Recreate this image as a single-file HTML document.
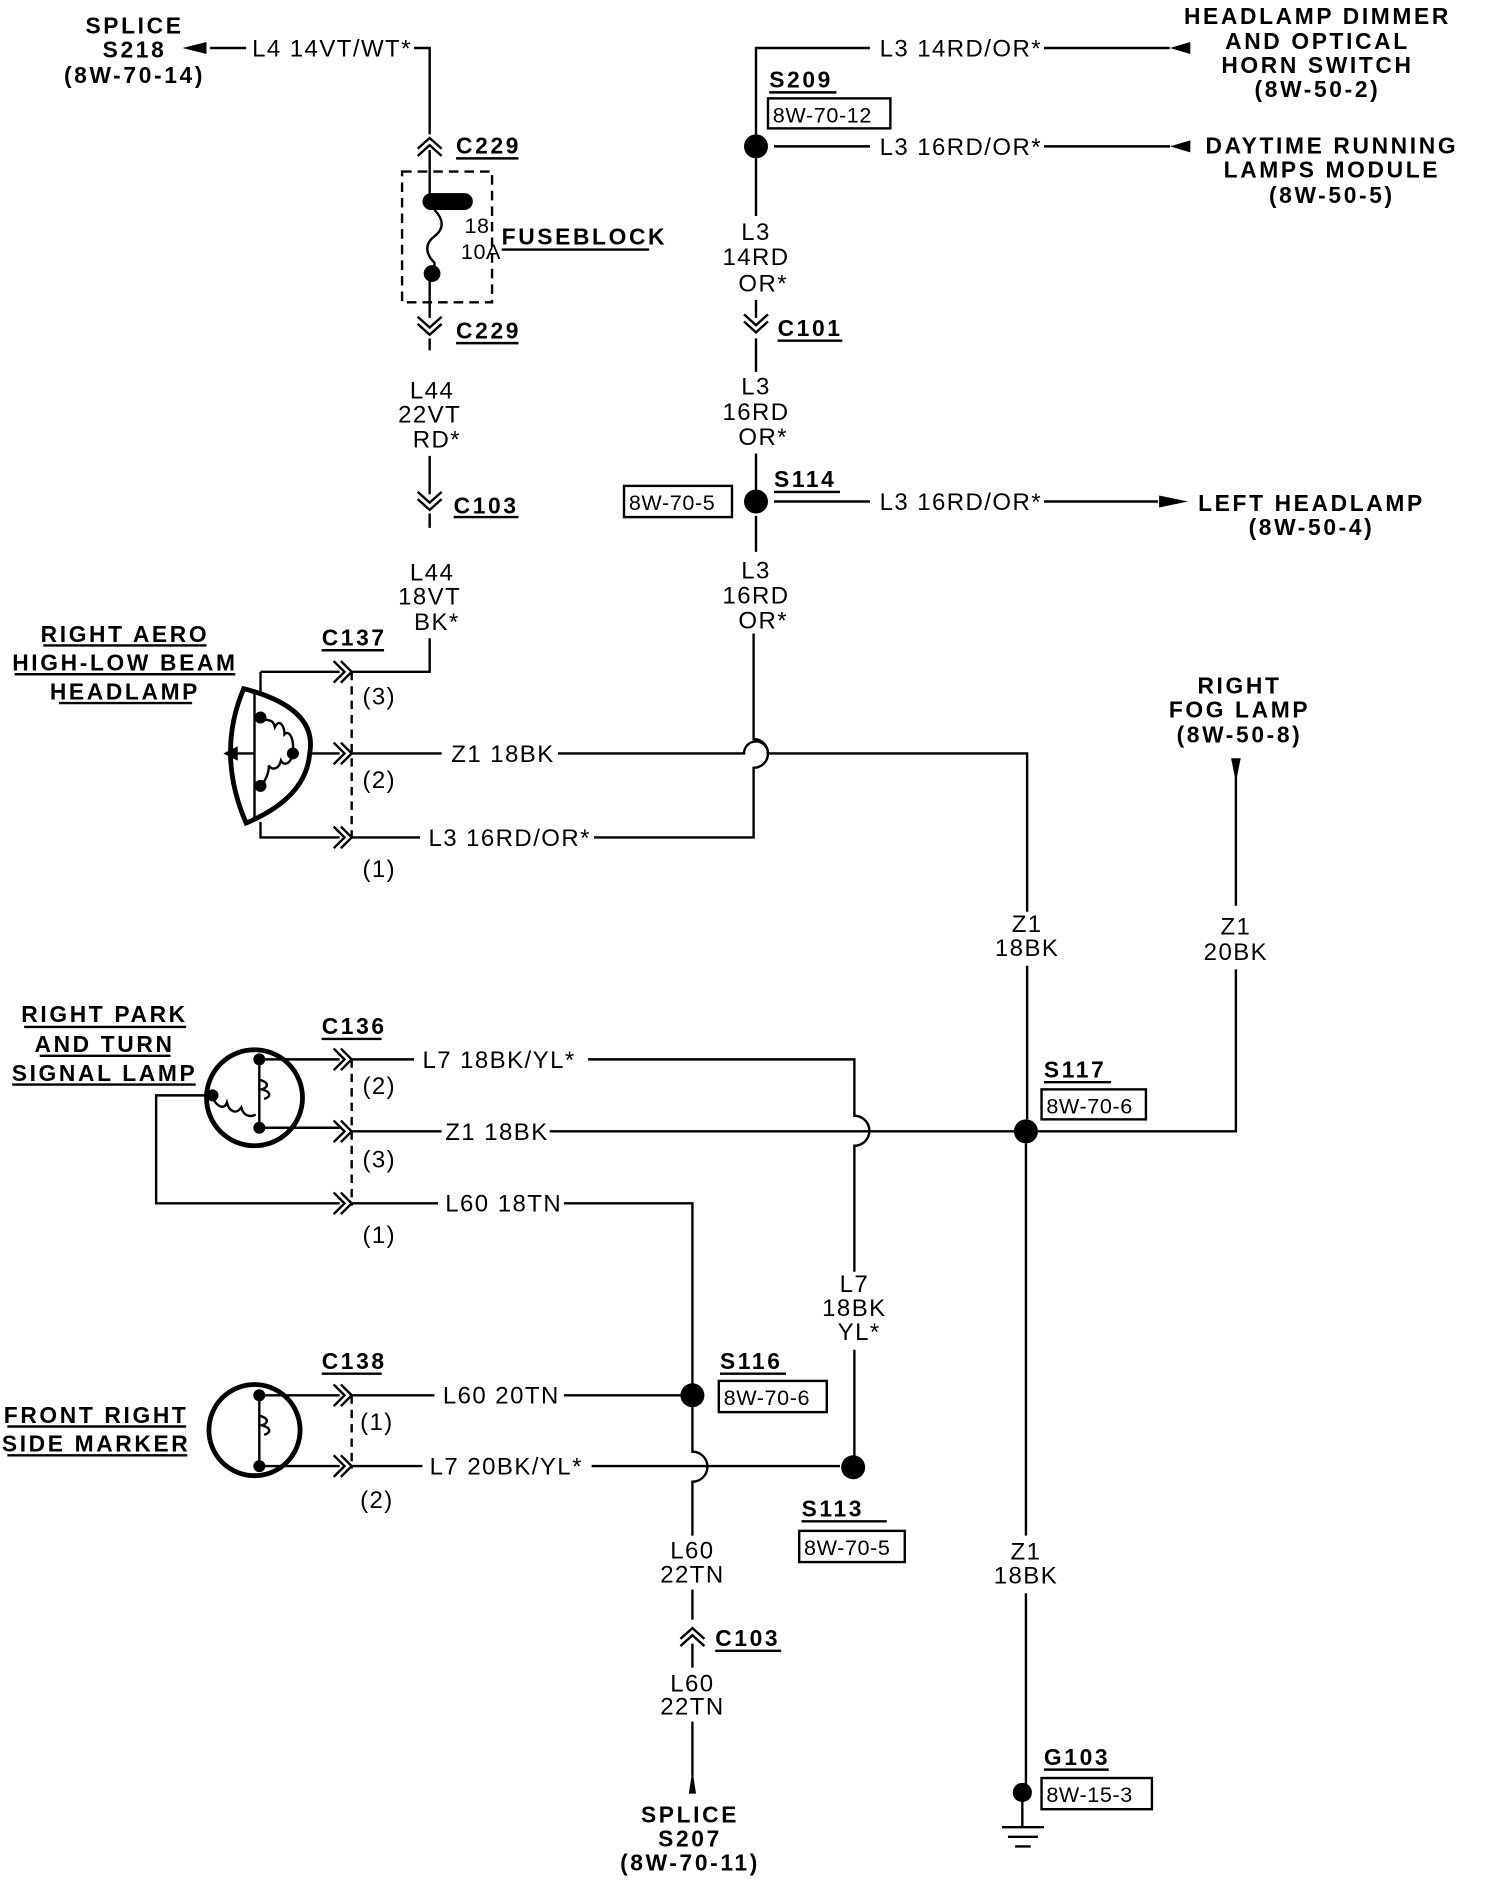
<!DOCTYPE html>
<html><head><meta charset="utf-8"><style>
html,body{margin:0;padding:0;background:#fff;}
svg{display:block;}
text{font-family:"Liberation Sans",sans-serif;font-size:20px;letter-spacing:1.2px;fill:#000;}
.b{font-weight:bold;font-size:19px;letter-spacing:2.2px;}
.s{font-size:18px;letter-spacing:0.5px;}
</style></head><body>
<svg width="1488" height="1880" viewBox="0 0 1240 1567" xmlns="http://www.w3.org/2000/svg">
<defs>
<g id="ch" fill="none" stroke="#000" stroke-width="2"><path d="M-12,-9 L-3,0 L-12,9 M-6,-9 L3,0 L-6,9"/></g>
<g id="cu" fill="none" stroke="#000" stroke-width="2"><path d="M-10,6 L0,-3 L10,6 M-10,12 L0,3 L10,12"/></g>
<g id="cd" fill="none" stroke="#000" stroke-width="2"><path d="M-10,-6 L0,3 L10,-6 M-10,-12 L0,-3 L10,-12"/></g>
</defs>
<g fill="none" stroke="#000" stroke-width="2">
<path d="M175,40 H205 M345,40 H358 V112 M358,125 V168 M358,228 V265 M358,282 V292 M358,380 V412 M358,428 V440 M358,532 V560 H292"/>
<rect x="335" y="143" width="75" height="109" stroke-dasharray="8,5"/>
<path d="M362,175 c8,8 8,16 0,22 c-8,6 -8,14 0,22 l0,9"/>
<path d="M217,560 H283 M217,560 V578 M258,628 H283 M217,685 V698 H283 M292,628 H368 M465,628 H620 A10,10 0 0 1 640,628 H856 V760 M856,805 V933"/>
<path d="M293,560 V700" stroke-dasharray="7,5"/>
<path d="M292,698 H350 M495,698 H628 V640 A12,12 0 0 0 628,616 V528"/>
<path d="M203,574 Q265,590 258,628 Q255,665 205,686 Q180,628 203,574 Z" stroke-width="4"/>
<path d="M212,578 V682"/>
<path d="M217,598 c6,4 10,0 12,8 c4,-8 8,0 8,6 c4,-4 8,4 7,14 M244,628 c-2,10 -8,10 -10,6 c-2,8 -8,8 -10,4 c0,8 -4,14 -7,17"/>
<path d="M190,628 H212"/>
<path d="M630,112 V40 H725 M870,40 H975 M645,122 H725 M870,122 H975 M630,132 V180 M630,250 V265 M630,282 V310 M630,378 V408 M645,418 H725 M870,418 H965 M630,430 V460"/>
<path d="M1030,640 V755 M1030,808 V943 H865"/>
<path d="M855,953 V1280 M855,1328 V1494 M852,1494 V1523 M835,1523 H870 M840,1531 H865 M846,1539 H859"/>
<circle cx="212" cy="915" r="40" stroke-width="4"/>
<path d="M216,883 H283 M216,940 H283 M175,913 H130 V1003 H283 M216,883 V940"/>
<path d="M216,900 c8,2 8,6 2,8 c8,2 8,6 2,8 M177,915 c4,8 10,10 12,4 c2,8 8,10 12,4 c2,8 8,8 12,6"/>
<path d="M293,883 V1005" stroke-dasharray="7,5"/>
<path d="M292,883 H345 M490,883 H712 V930 A12,12 0 0 1 712,955 V1060 M712,1125 V1222"/>
<path d="M292,943 H368 M458,943 H845"/>
<path d="M292,1003 H365 M470,1003 H577 V1163"/>
<circle cx="212" cy="1192" r="38" stroke-width="4"/>
<path d="M216,1163 H283 M216,1222 H283 M216,1163 V1222 M216,1180 c8,2 8,6 2,8 c8,2 8,6 2,8"/>
<path d="M293,1163 V1224" stroke-dasharray="7,5"/>
<path d="M292,1163 H362 M470,1163 H567 M292,1222 H352 M493,1222 H700"/>
<path d="M577,1173 V1210 A12,12 0 0 1 577,1235 V1280 M577,1325 V1350 M577,1370 V1390 M577,1435 V1480"/>
<rect x="640" y="82" width="102" height="25"/>
<rect x="520" y="405" width="90" height="26"/>
<rect x="868" y="908" width="87" height="25"/>
<rect x="599" y="1151" width="90" height="26"/>
<rect x="666" y="1276" width="88" height="26"/>
<rect x="868" y="1482" width="92" height="26"/>
<path d="M380,132 H432 M380,286 H432 M378,431 H432 M418,208 H541 M641,77 H697 M648,284 H702 M645,410 H700 M268,542 H320 M36,538 H172 M12,562 H196 M49,586 H160 M268,866 H318 M20,856 H155 M33,880 H142 M10,904 H163 M268,1145 H318 M6,1189 H155 M6,1213 H156 M870,902 H926 M600,1145 H655 M668,1268 H739 M596,1376 H651 M870,1475 H924"/>
</g>
<use href="#cu" x="358" y="118"/>
<use href="#cd" x="358" y="276"/>
<use href="#cd" x="358" y="422"/>
<use href="#cd" x="630" y="274"/>
<use href="#cu" x="577" y="1360"/>
<use href="#ch" x="290" y="560"/><use href="#ch" x="290" y="628"/><use href="#ch" x="290" y="698"/>
<use href="#ch" x="290" y="883"/><use href="#ch" x="290" y="943"/><use href="#ch" x="290" y="1003"/>
<use href="#ch" x="290" y="1163"/><use href="#ch" x="290" y="1222"/>
<g fill="#000">
<rect x="352" y="161" width="42" height="14" rx="7"/>
<circle cx="360" cy="228" r="7"/>
<circle cx="630" cy="122" r="10"/><circle cx="630" cy="418" r="10"/>
<circle cx="855" cy="943" r="10"/><circle cx="577" cy="1163" r="10"/><circle cx="711" cy="1223" r="10"/>
<circle cx="852" cy="1494" r="8"/>
<circle cx="217" cy="598" r="5"/><circle cx="244" cy="628" r="5"/><circle cx="217" cy="655" r="5"/>
<circle cx="216" cy="883" r="5"/><circle cx="216" cy="940" r="5"/><circle cx="177" cy="913" r="5"/>
<circle cx="216" cy="1163" r="5"/><circle cx="216" cy="1222" r="5"/>
<path d="M152,40 L172,35 L172,45 Z"/>
<path d="M975,40 L992,35 L992,45 Z"/>
<path d="M975,122 L992,117 L992,127 Z"/>
<path d="M990,418 L966,413 L966,423 Z"/>
<path d="M1026,632 L1034,632 L1030,652 Z"/>
<path d="M574,1495 L580,1495 L577,1475 Z"/>
<path d="M186,628 L198,622 L198,634 Z"/>
</g>
<g text-anchor="middle">
<text class="b" x="112" y="28">SPLICE</text><text class="b" x="112" y="48">S218</text><text class="b" x="112" y="69">(8W-70-14)</text>
<text class="b" x="1098" y="20">HEADLAMP DIMMER</text><text class="b" x="1098" y="41">AND OPTICAL</text><text class="b" x="1098" y="61">HORN SWITCH</text><text class="b" x="1098" y="81">(8W-50-2)</text>
<text class="b" x="1110" y="128">DAYTIME RUNNING</text><text class="b" x="1110" y="148">LAMPS MODULE</text><text class="b" x="1110" y="169">(8W-50-5)</text>
<text class="b" x="1093" y="426">LEFT HEADLAMP</text><text class="b" x="1093" y="446">(8W-50-4)</text>
<text class="b" x="1033" y="578">RIGHT</text><text class="b" x="1033" y="598">FOG LAMP</text><text class="b" x="1033" y="619">(8W-50-8)</text>
<text class="b" x="104" y="535">RIGHT AERO</text><text class="b" x="104" y="559">HIGH-LOW BEAM</text><text class="b" x="104" y="583">HEADLAMP</text>
<text class="b" x="87" y="852">RIGHT PARK</text><text class="b" x="87" y="877">AND TURN</text><text class="b" x="87" y="901">SIGNAL LAMP</text>
<text class="b" x="80" y="1186">FRONT RIGHT</text><text class="b" x="80" y="1210">SIDE MARKER</text>
<text class="b" x="575" y="1519">SPLICE</text><text class="b" x="575" y="1539">S207</text><text class="b" x="575" y="1559">(8W-70-11)</text>
<text x="360" y="332">L44</text><text x="358" y="352">22VT</text><text x="364" y="373">RD*</text>
<text x="360" y="484">L44</text><text x="358" y="504">18VT</text><text x="364" y="525">BK*</text>
<text x="630" y="200">L3</text><text x="630" y="221">14RD</text><text x="636" y="243">OR*</text>
<text x="630" y="329">L3</text><text x="630" y="350">16RD</text><text x="636" y="371">OR*</text>
<text x="630" y="482">L3</text><text x="630" y="503">16RD</text><text x="636" y="524">OR*</text>
<text x="856" y="777">Z1</text><text x="856" y="797">18BK</text>
<text x="1030" y="779">Z1</text><text x="1030" y="800">20BK</text>
<text x="712" y="1077">L7</text><text x="712" y="1097">18BK</text><text x="716" y="1117">YL*</text>
<text x="577" y="1299">L60</text><text x="577" y="1319">22TN</text>
<text x="577" y="1410">L60</text><text x="577" y="1429">22TN</text>
<text x="855" y="1300">Z1</text><text x="855" y="1320">18BK</text>
</g>
<text x="210" y="47">L4 14VT/WT*</text>
<text x="733" y="47">L3 14RD/OR*</text>
<text x="733" y="129">L3 16RD/OR*</text>
<text x="733" y="425">L3 16RD/OR*</text>
<text x="376" y="635">Z1 18BK</text>
<text x="357" y="705">L3 16RD/OR*</text>
<text x="352" y="890">L7 18BK/YL*</text>
<text x="371" y="950">Z1 18BK</text>
<text x="371" y="1010">L60 18TN</text>
<text x="369" y="1170">L60 20TN</text>
<text x="358" y="1229">L7 20BK/YL*</text>
<text class="s" x="387" y="194">18</text><text class="s" x="384" y="216">10A</text>
<text x="302" y="587">(3)</text><text x="302" y="657">(2)</text><text x="302" y="731">(1)</text>
<text x="302" y="912">(2)</text><text x="302" y="973">(3)</text><text x="302" y="1036">(1)</text>
<text x="300" y="1192">(1)</text><text x="300" y="1257">(2)</text>
<text class="b" x="380" y="128">C229</text>
<text class="b" x="418" y="204">FUSEBLOCK</text>
<text class="b" x="380" y="282">C229</text>
<text class="b" x="378" y="428">C103</text>
<text class="b" x="641" y="73">S209</text>
<text class="b" x="648" y="280">C101</text>
<text class="b" x="645" y="406">S114</text>
<text class="b" x="268" y="538">C137</text>
<text class="b" x="268" y="862">C136</text>
<text class="b" x="268" y="1141">C138</text>
<text class="b" x="870" y="898">S117</text>
<text class="b" x="600" y="1141">S116</text>
<text class="b" x="668" y="1264">S113</text>
<text class="b" x="596" y="1372">C103</text>
<text class="b" x="870" y="1471">G103</text>
<text class="s" x="644" y="102">8W-70-12</text>
<text class="s" x="524" y="425">8W-70-5</text>
<text class="s" x="872" y="928">8W-70-6</text>
<text class="s" x="603" y="1171">8W-70-6</text>
<text class="s" x="670" y="1296">8W-70-5</text>
<text class="s" x="872" y="1502">8W-15-3</text>
</svg>
</body></html>
